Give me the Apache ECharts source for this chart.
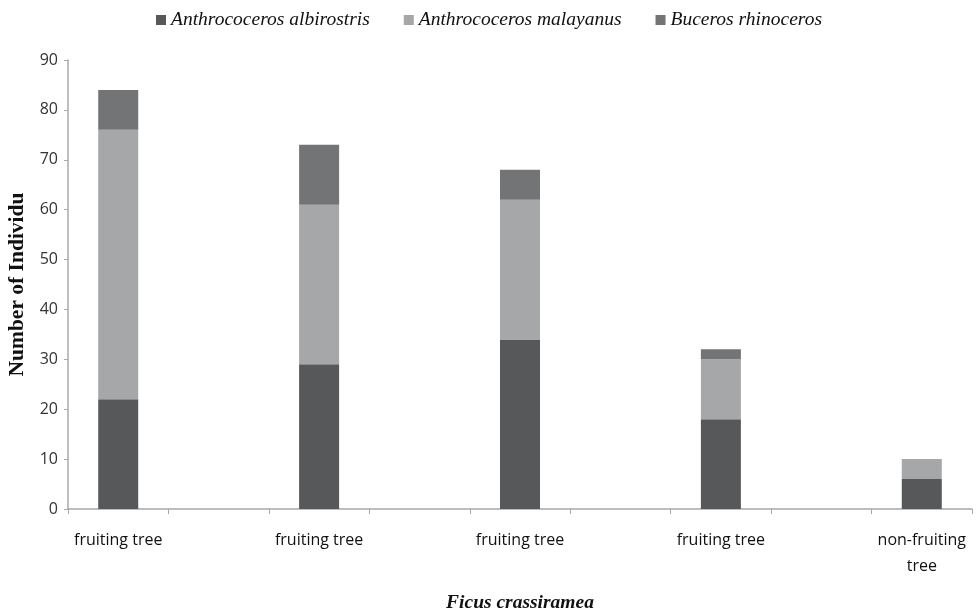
<!DOCTYPE html>
<html>
<head>
<meta charset="utf-8">
<script src="https://cdn.jsdelivr.net/npm/echarts@6/dist/echarts.min.js"></script>
<style>html,body{margin:0;padding:0;background:#fff}#c{width:978px;height:612px}</style>
</head>
<body>
<div id="c"></div>
<script>
var categories = ['fruiting tree', '', 'fruiting tree', '', 'fruiting tree', '', 'fruiting tree', '', 'non-fruiting\ntree'];
var seriesNames = ['Anthrococeros albirostris', 'Anthrococeros malayanus', 'Buceros rhinoceros'];
var albirostris = [22, '-', 29, '-', 34, '-', 18, '-', 6];
var malayanus = [54, '-', 32, '-', 28, '-', 12, '-', 4];
var rhinoceros = [8, '-', 12, '-', 6, '-', 2, '-', 0];
var yTicks = {min: 0, max: 90, interval: 10};
var colors = ['#56585a', '#a5a7a9', '#727476'];

var chart = echarts.init(document.getElementById('c'));
var dataSets = [albirostris, malayanus, rhinoceros];
chart.setOption({
  animation: false,
  color: colors,
  legend: {
    top: 5,
    left: 'center',
    itemWidth: 10,
    itemHeight: 10,
    itemGap: 34,
    icon: 'rect',
    textStyle: {fontFamily: 'Liberation Serif', fontStyle: 'italic', fontSize: 19.5, color: '#111'},
    data: seriesNames
  },
  grid: {left: 68, right: 6, top: 60, bottom: 103, containLabel: false, outerBoundsMode: 'none'},
  xAxis: {
    type: 'category',
    data: categories,
    boundaryGap: true,
    name: 'Ficus crassiramea',
    nameLocation: 'middle',
    nameGap: 84,
    nameTextStyle: {fontFamily: 'Liberation Serif', fontStyle: 'italic', fontWeight: 'bold', fontSize: 19.5, color: '#111'},
    axisLine: {lineStyle: {color: '#a8a8a8', width: 1.5}},
    axisTick: {show: true, interval: 0, length: 5, lineStyle: {color: '#a8a8a8'}},
    axisLabel: {interval: 0, fontFamily: 'Open Sans', fontSize: 16, color: '#111', margin: 18, lineHeight: 26}
  },
  yAxis: {
    type: 'value',
    min: yTicks.min,
    max: yTicks.max,
    interval: yTicks.interval,
    name: 'Number of Individu',
    nameLocation: 'middle',
    nameGap: 36,
    nameRotate: 90,
    nameTextStyle: {fontFamily: 'Liberation Serif', fontWeight: 'bold', fontSize: 21.5, color: '#111'},
    axisLine: {show: true, lineStyle: {color: '#a8a8a8', width: 1.5}},
    axisTick: {show: true, length: 4, lineStyle: {color: '#a8a8a8'}},
    splitLine: {show: false},
    axisLabel: {fontFamily: 'Open Sans', fontSize: 16, color: '#333', margin: 10}
  },
  series: dataSets.map(function (d, i) {
    return {name: seriesNames[i], type: 'bar', stack: 'total', barWidth: 40, data: d};
  })
});
</script>
</body>
</html>
